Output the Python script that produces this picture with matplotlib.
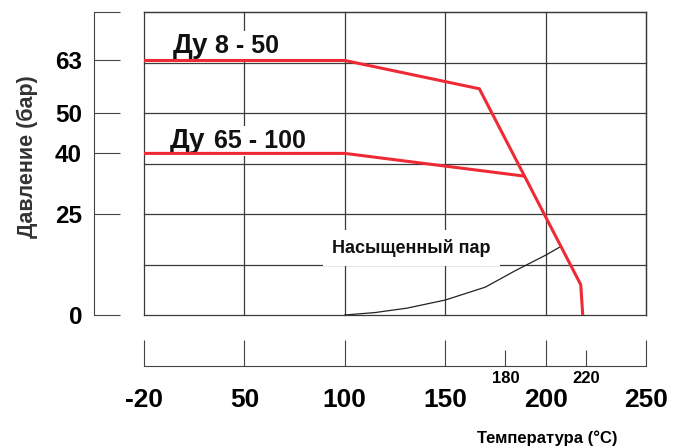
import numpy as np
import matplotlib.pyplot as plt

plt.rcParams["font.family"] = ["Liberation Sans", "DejaVu Sans"]
plt.rcParams["font.weight"] = "bold"

# data
temp_dn8_50 = [-20, 100, 167, 217.5, 218.5]
pres_dn8_50 = [63, 63, 56, 7.5, 0]

temp_dn65_100 = [-20, 100, 189]
pres_dn65_100 = [40, 40, 34.4]

temp_steam = [100, 115, 131, 150, 170, 185, 200, 207]
pres_steam = [0, 0.6, 1.7, 3.7, 6.9, 11, 14.8, 16.8]

x_major = [-20, 50, 100, 150, 200, 250]
x_minor = [180, 220]
y_ticks = [0, 25, 40, 50, 63, 75]
y_labels = ["0", "25", "40", "50", "63", ""]
y_grid = [0, 12.5, 25, 37.5, 50, 62.5, 75]

W, H = 676, 448


def px(x, y):
    return x / W, 1 - y / H


# the temperature axis is compressed between -20 and 50
def fwd(x):
    return np.interp(x, [-20, 50, 250], [0, 1, 5])


def inv(p):
    return np.interp(p, [0, 1, 5], [-20, 50, 250])


grid_col = "#3a3a3a"
red = "#ee2a35"

fig = plt.figure(figsize=(W / 100, H / 100), dpi=100)
ax = fig.add_axes([144 / W, 1 - 315 / H, 502 / W, 303 / H])
ax.set_xscale("function", functions=(fwd, inv))
ax.set_xlim(-20, 250)
ax.set_ylim(0, 75)

for x in x_major:
    ax.axvline(x, color=grid_col, lw=0.9, zorder=1, clip_on=False)
for y in y_grid:
    ax.axhline(y, color=grid_col, lw=0.9, zorder=1, clip_on=False)

ax.plot(temp_dn8_50, pres_dn8_50, color=red, lw=2.2, zorder=6, solid_joinstyle="miter")
ax.plot(temp_dn65_100, pres_dn65_100, color=red, lw=2.2, zorder=6)
ax.plot(temp_steam, pres_steam, color="#222222", lw=0.9, zorder=5)

for s in ["top", "right"]:
    ax.spines[s].set_color(grid_col)
    ax.spines[s].set_linewidth(0.9)
ax.spines["left"].set_position(("outward", 36))
ax.spines["bottom"].set_position(("outward", 36.7))
for s in ["left", "bottom"]:
    ax.spines[s].set_color("#444444")
    ax.spines[s].set_linewidth(0.8)

ax.set_yticks(y_ticks)
ax.set_yticklabels(y_labels)
ax.set_xticks(x_major)
ax.set_xticklabels([str(v) for v in x_major])
ax.set_xticks(x_minor, minor=True)
ax.set_xticklabels([str(v) for v in x_minor], minor=True)
ax.yaxis.set_minor_locator(plt.NullLocator())

ax.tick_params(axis="y", direction="in", length=18.7, width=0.8, color="#444444",
               pad=8.6, labelsize=17.5)
ax.tick_params(axis="x", which="major", direction="in", length=18.7, width=0.8,
               color="#444444", pad=16, labelsize=19)
ax.tick_params(axis="x", which="minor", direction="in", length=11.5, width=0.8,
               color="#444444", pad=3.5, labelsize=12)

box = dict(boxstyle="square,pad=0.12", facecolor="white", edgecolor="none")
ax.text(*px(173, 53), "Ду", transform=fig.transFigure, fontsize=20,
        va="baseline", ha="left", color="#111111", zorder=4, bbox=box)
ax.text(*px(215, 53), "8 - 50", transform=fig.transFigure, fontsize=18,
        va="baseline", ha="left", color="#111111", zorder=4, bbox=box)
ax.text(*px(170, 148), "Ду", transform=fig.transFigure, fontsize=20,
        va="baseline", ha="left", color="#111111", zorder=4, bbox=box)
ax.text(*px(214, 148), "65 - 100", transform=fig.transFigure, fontsize=18,
        va="baseline", ha="left", color="#111111", zorder=4, bbox=box)
ax.text(*px(332, 253), "Насыщенный пар", transform=fig.transFigure, fontsize=13,
        va="baseline", ha="left", color="#111111", zorder=4,
        bbox=dict(boxstyle="square,pad=0.5", facecolor="white", edgecolor="none"))

fig.text(*px(547, 443), "Температура (°C)", fontsize=12, ha="center", va="baseline")
fig.text(*px(27, 157), "Давление (бар)", fontsize=15.5, rotation=90,
         ha="center", va="center", color="#333333")

fig.savefig("out.png", dpi=100)
